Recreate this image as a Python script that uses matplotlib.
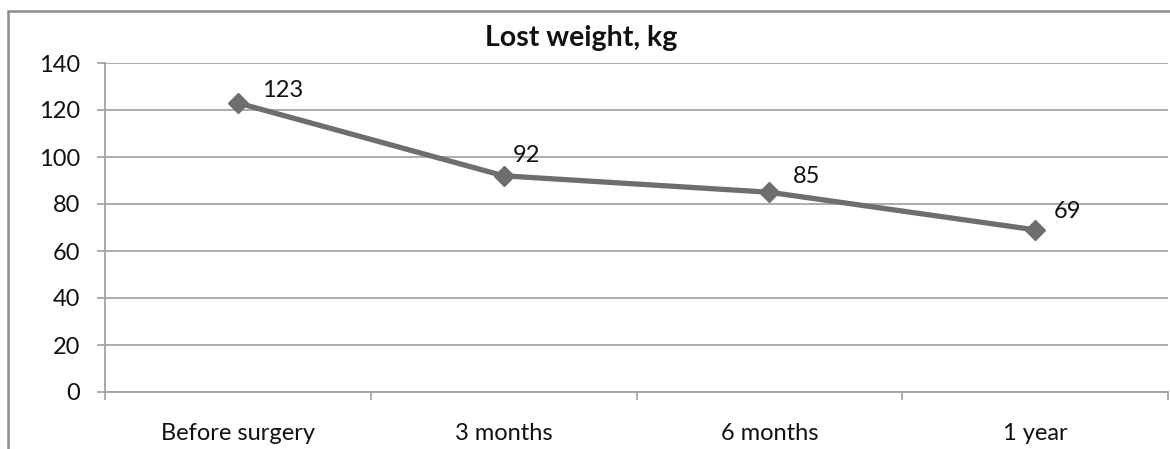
import matplotlib.pyplot as plt
from matplotlib.patches import Rectangle

# lost weight at each follow-up point
stages = ["Before surgery", "3 months", "6 months", "1 year"]
weight = [123, 92, 85, 69]
y_ticks = [0, 20, 40, 60, 80, 100, 120, 140]

plt.rcParams['font.family'] = ['Lato', 'DejaVu Sans']

W, H = 1170, 449
fig = plt.figure(figsize=(W / 100, H / 100), dpi=100)

# chart frame, cut at the right and bottom edges
fig.patches.append(Rectangle((8 / W, -0.1), 2.0, (H - 11) / H + 0.1,
                             transform=fig.transFigure, fill=False,
                             edgecolor="#8c8c8c", linewidth=1.8))

ax = fig.add_axes([105 / W, 1 - 392 / H, (1168 - 105) / W, (392 - 63) / H])

x = [i + 0.5 for i in range(len(stages))]
ax.plot(x, weight, color="#6e6e6e", linewidth=3.8, marker="D",
        markersize=10, solid_capstyle="round", zorder=3)

# per-point label offsets in pixels
offsets = [(45, 12), (23, 20), (37, 16), (32, 18)]
for xi, v, (dx, dy) in zip(x, weight, offsets):
    ax.annotate(str(v), (xi, v), xytext=(dx * 0.72, dy * 0.72),
                textcoords="offset points", ha="center", va="center",
                fontsize=17, color="#111111")

ax.set_xlim(0, len(stages))
ax.set_ylim(0, 140)
ax.set_yticks(y_ticks)
ax.tick_params(axis="y", labelsize=17, length=6, width=1.2, color="#a0a0a0",
               pad=12, labelcolor="#111111")

ax.set_xticks(range(len(stages) + 1))
ax.set_xticklabels([])
ax.set_xticks(x, minor=True)
ax.set_xticklabels(stages, minor=True)
ax.tick_params(axis="x", which="major", length=6, width=1.2, color="#a0a0a0")
ax.tick_params(axis="x", which="minor", length=0, labelsize=17, pad=22,
               labelcolor="#111111")

ax.grid(axis="y", color="#a6a6a6", linewidth=1.3)
ax.set_axisbelow(True)
for side in ["top", "right"]:
    ax.spines[side].set_visible(False)
for side in ["left", "bottom"]:
    ax.spines[side].set_color("#a0a0a0")
    ax.spines[side].set_linewidth(1.3)

fig.text(581 / W, 1 - 38 / H, "Lost weight, kg", ha="center", va="center",
         fontsize=20.5, fontweight="bold", color="#111111")

fig.savefig("out.png", dpi=100)
